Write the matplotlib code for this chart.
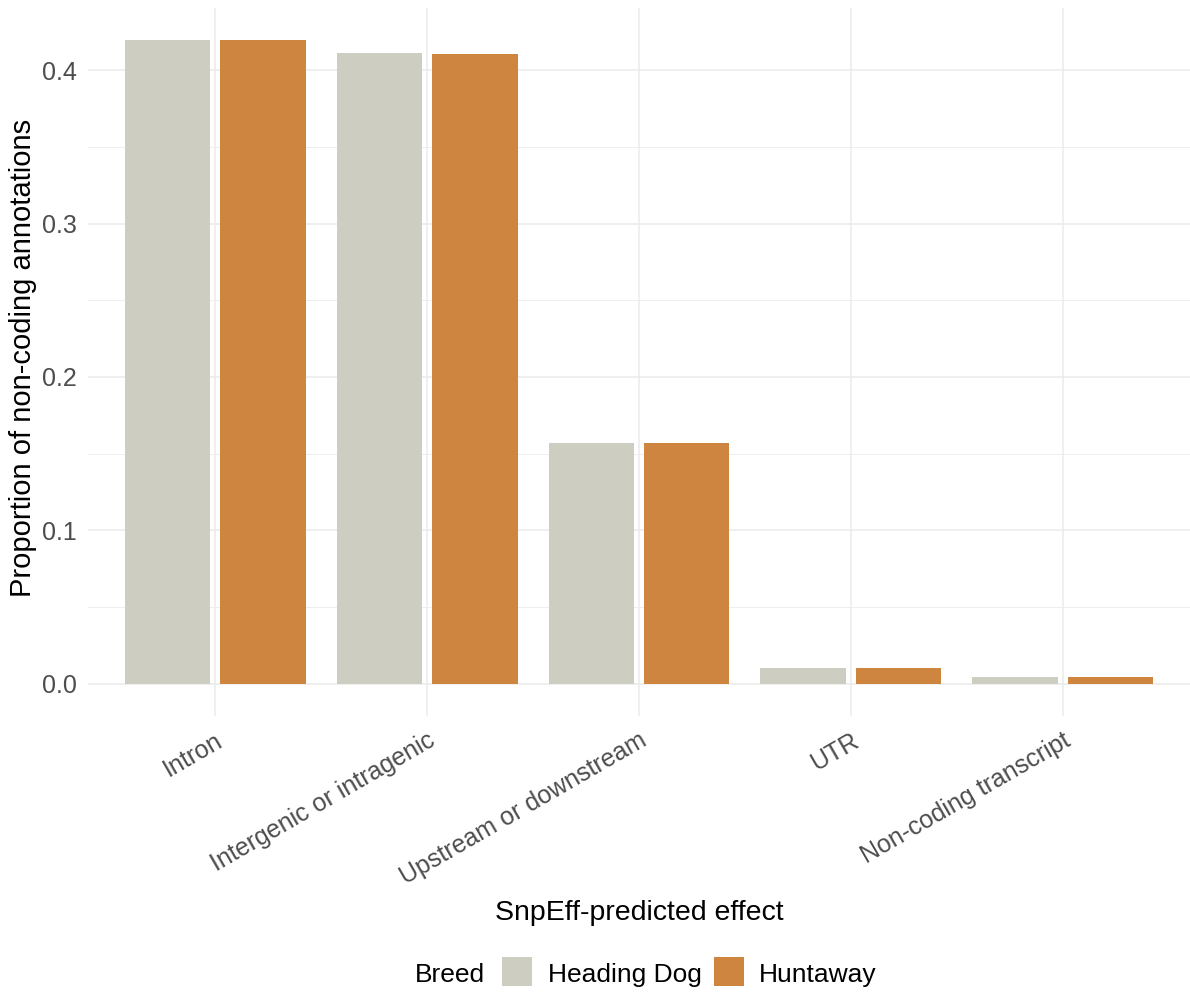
import matplotlib
matplotlib.use("Agg")
import matplotlib.pyplot as plt
import matplotlib.transforms as mtransforms
from matplotlib.patches import Rectangle
import numpy as np

plt.rcParams['font.family'] = ['Liberation Sans', 'DejaVu Sans']

categories = ["Intron", "Intergenic or intragenic", "Upstream or downstream", "UTR", "Non-coding transcript"]
breeds = ["Heading Dog", "Huntaway"]
heading_dog = [0.4195, 0.4112, 0.1572, 0.0104, 0.0042]
huntaway = [0.4195, 0.4104, 0.1572, 0.0105, 0.0044]
colors = ["#CDCDC1", "#CD853F"]
yticks = [0.0, 0.1, 0.2, 0.3, 0.4]

W, H = 1190, 992
fig = plt.figure(figsize=(W/100, H/100), dpi=100)
ax = fig.add_axes([88/W, 1 - 716/H, (1190 - 88)/W, (716 - 8)/H])

x = np.arange(len(categories))
bw = 0.405
off = 0.2245
ax.bar(x - off, heading_dog, width=bw, color=colors[0], edgecolor='none', zorder=3)
ax.bar(x + off, huntaway, width=bw, color=colors[1], edgecolor='none', zorder=3)

ymax = max(max(heading_dog), max(huntaway))
ax.set_ylim(-0.05 * ymax, 1.05 * ymax)
ax.set_xlim(-0.6, len(categories) - 1 + 0.6)

ax.set_yticks(yticks)
ax.set_yticklabels([f"{v:.1f}" for v in yticks])
ax.set_yticks([0.05, 0.15, 0.25, 0.35], minor=True)
ax.set_xticks(x)
ax.set_xticklabels(categories, rotation=30, ha='right', rotation_mode='anchor')
shift = mtransforms.ScaledTranslation(12/100, -2/100, fig.dpi_scale_trans)
for lab in ax.get_xticklabels():
    lab.set_transform(lab.get_transform() + shift)

ax.grid(True, which='major', color='#EBEBEB', linewidth=1.1, zorder=0)
ax.grid(True, which='minor', axis='y', color='#EBEBEB', linewidth=0.6, zorder=0)
for s in ax.spines.values():
    s.set_visible(False)
ax.tick_params(axis='both', which='both', length=0)
ax.tick_params(axis='y', labelsize=18, labelcolor='#4D4D4D', pad=8)
ax.tick_params(axis='x', labelsize=18, labelcolor='#4D4D4D', pad=9)

ax.set_ylabel("Proportion of non-coding annotations", fontsize=21, color='black')
ax.yaxis.set_label_coords((37 - 88) / 1102, (716 - 358) / 708)
ax.set_xlabel("SnpEff-predicted effect", fontsize=20.5, color='black', va='baseline')
ax.xaxis.set_label_coords(0.5, (716 - 920) / 708)

# legend drawn manually (ggplot-style horizontal legend with title on the left)
base_y = 1 - 982 / H
fig.text(415 / W, base_y, "Breed", fontsize=19, va='baseline', ha='left', color='black')
key_x = [502, 714]
text_x = [548, 759]
for kx, tx, c, lab in zip(key_x, text_x, colors, breeds):
    fig.patches.append(Rectangle((kx / W, 1 - 986 / H), 30 / W, 29 / H, transform=fig.transFigure,
                                 facecolor=c, edgecolor='none'))
    fig.text(tx / W, base_y, lab, fontsize=19, va='baseline', ha='left', color='black')

fig.savefig("out.png", dpi=100, facecolor='white')
